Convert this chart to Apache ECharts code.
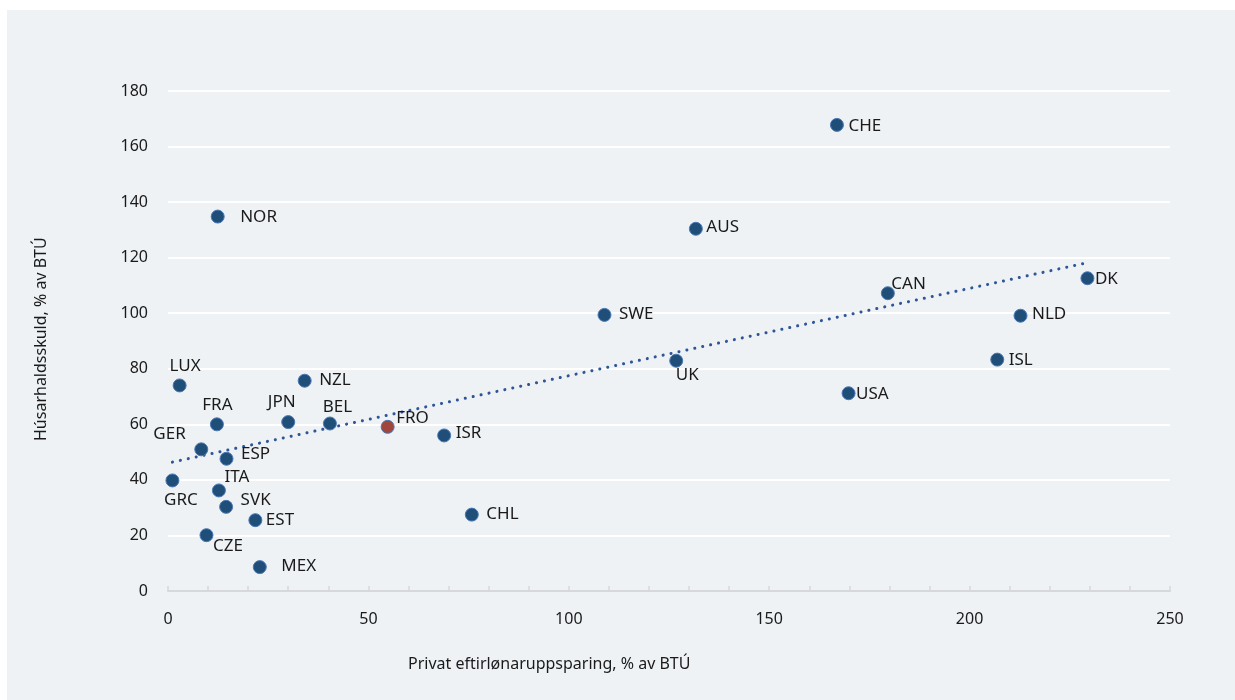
<!DOCTYPE html>
<html>
<head>
    <meta charset="UTF-8">
    <title>Húsarhaldsskuld og eftirlønaruppsparing</title>
    <script src="https://cdn.jsdelivr.net/npm/echarts@6/dist/echarts.min.js"></script>
    <style>
        body { margin: 0; background: #fff; }
        #chart { width: 1235px; height: 700px; }
    </style>
</head>
<body>
    <div id="chart"></div>

    <script>
        // lond
        var countries = ['CHE', 'NOR', 'AUS', 'CAN', 'DK', 'SWE', 'NLD', 'UK', 'ISL', 'USA',
                         'LUX', 'NZL', 'FRA', 'JPN', 'BEL', 'FRO', 'ISR', 'GER', 'ESP', 'GRC',
                         'ITA', 'SVK', 'EST', 'CHL', 'CZE', 'MEX'];
        // privat eftirlønaruppsparing, % av BTÚ
        var pension = [166.9, 12.4, 131.7, 179.6, 229.4, 108.9, 212.7, 126.8, 206.9, 169.8,
                       2.9, 34.1, 12.2, 30.0, 40.4, 54.8, 68.9, 8.3, 14.6, 1.1,
                       12.7, 14.5, 21.8, 75.8, 9.6, 22.9];
        // húsarhaldsskuld, % av BTÚ
        var debt = [167.8, 134.8, 130.4, 107.2, 112.6, 99.4, 99.1, 82.9, 83.3, 71.2,
                    74.0, 75.7, 60.0, 60.8, 60.3, 59.1, 56.0, 51.0, 47.6, 39.8,
                    36.2, 30.3, 25.5, 27.5, 20.1, 8.6];
        // endapunktar á trendlinjuni (lisnir av myndini)
        var trendX = [1.1, 229.4];
        var trendY = [46.4, 118.2];

        var xTicks = [0, 50, 100, 150, 200, 250];
        var yTicks = [0, 20, 40, 60, 80, 100, 120, 140, 160, 180];

        // hvar hvør merkiteksturin stendur: [dx, dy, align] frá miðjuni á prikkinum
        var labelPlace = {
            CHE: [12, 2, 'left'], NOR: [23, 1, 'left'], AUS: [11, -1, 'left'],
            CAN: [4, -9, 'left'], DK: [8, 1, 'left'], SWE: [15, 0, 'left'],
            NLD: [12, -1, 'left'], UK: [0, 15, 'left'], ISL: [12, 1, 'left'],
            USA: [8, 1, 'left'], LUX: [6, -19, 'center'], NZL: [15, 0, 'left'],
            FRA: [1, -19, 'center'], JPN: [-6, -19, 'center'], BEL: [8, -16, 'center'],
            FRO: [9, -8, 'left'], ISR: [12, -2, 'left'], GER: [-15, -15, 'right'],
            ESP: [15, -4, 'left'], GRC: [9, 20, 'center'], ITA: [6, -13, 'left'],
            SVK: [15, -6, 'left'], EST: [11, 0, 'left'], CHL: [15, 0, 'left'],
            CZE: [7, 11, 'left'], MEX: [22, 0, 'left']
        };

        var SYM = 13;
        var points = countries.map(function (c, i) {
            var p = labelPlace[c];
            var item = {
                name: c,
                value: [pension[i], debt[i]],
                label: {
                    position: [SYM / 2 + p[0], SYM / 2 + p[1]],
                    align: p[2],
                    verticalAlign: 'middle'
                }
            };
            if (c === 'FRO') {
                item.itemStyle = { color: '#a0463c' };
            }
            return item;
        });

        var chart = echarts.init(document.getElementById('chart'), null, {renderer: 'canvas'});
        var font = 'Noto Sans';

        chart.setOption({
            backgroundColor: '#fff',
            animation: false,
            textStyle: { fontFamily: font },
            graphic: [
                {
                    type: 'rect', left: 7, top: 10, z: -10, silent: true,
                    shape: { width: 1228, height: 690 },
                    style: { fill: '#eef2f5' }
                },
                {
                    type: 'text', left: 408, top: 656,
                    style: { text: 'Privat eftirlønaruppsparing, % av BTÚ', fontSize: 16, fontFamily: font, fill: '#1a1a1a' }
                },
                {
                    type: 'text', x: 33, y: 441, rotation: Math.PI / 2,
                    style: { text: 'Húsarhaldsskuld, % av BTÚ', fontSize: 16, fontFamily: font, fill: '#1a1a1a' }
                }
            ],
            grid: { left: 168, right: 65, top: 91, bottom: 109 },
            xAxis: {
                type: 'value',
                min: xTicks[0],
                max: xTicks[xTicks.length - 1],
                interval: 50,
                axisLine: { show: true, lineStyle: { color: '#d6d8da', width: 2 } },
                axisTick: { show: true, inside: true, length: 5, lineStyle: { color: '#d6d8da', width: 1.5 } },
                minorTick: { show: true, splitNumber: 5, length: 5, lineStyle: { color: '#d6d8da', width: 1.5 } },
                axisLabel: { color: '#1a1a1a', fontSize: 16, margin: 20 },
                splitLine: { show: false }
            },
            yAxis: {
                type: 'value',
                min: yTicks[0],
                max: yTicks[yTicks.length - 1],
                interval: 20,
                axisLine: { show: false },
                axisTick: { show: false },
                axisLabel: { color: '#1a1a1a', fontSize: 16, margin: 20 },
                splitLine: { show: true, lineStyle: { color: '#ffffff', width: 2 } }
            },
            series: [
                {
                    type: 'line',
                    data: trendX.map(function (x, i) { return [x, trendY[i]]; }),
                    symbol: 'none',
                    z: 2,
                    lineStyle: { color: '#2f5597', width: 3, type: [0.1, 8], cap: 'round' }
                },
                {
                    type: 'scatter',
                    data: points,
                    symbolSize: SYM,
                    z: 3,
                    itemStyle: { color: '#1f4e79', borderColor: '#4a78b5', borderWidth: 1, opacity: 1 },
                    label: {
                        show: true,
                        formatter: '{b}',
                        fontSize: 17,
                        fontFamily: font,
                        color: '#1a1a1a'
                    }
                }
            ]
        });
    </script>
</body>
</html>
